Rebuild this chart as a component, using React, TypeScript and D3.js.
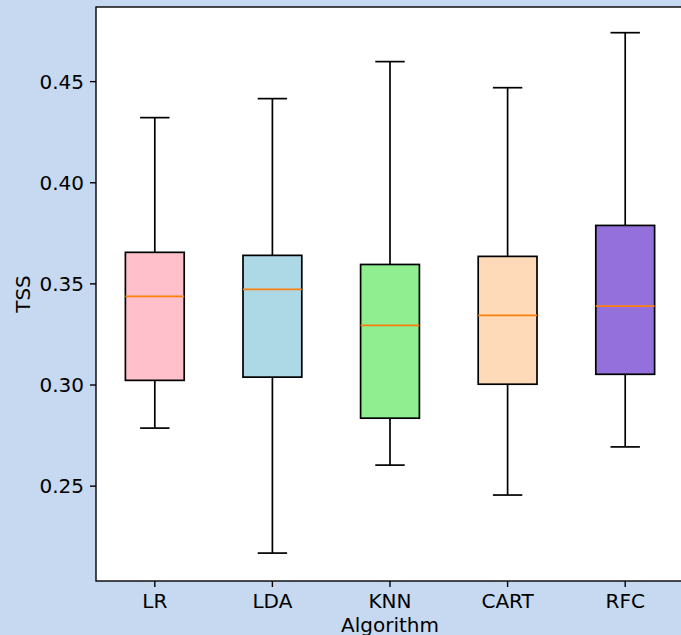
import React from "react";
import * as d3 from "d3";

const categories = ["LR", "LDA", "KNN", "CART", "RFC"];
const whiskerLow = [0.2787, 0.2169, 0.2604, 0.2456, 0.2694];
const q1 = [0.3023, 0.3039, 0.2836, 0.3004, 0.3053];
const medians = [0.3438, 0.3473, 0.3295, 0.3344, 0.339];
const q3 = [0.3656, 0.3641, 0.3596, 0.3636, 0.3789];
const whiskerHigh = [0.4322, 0.4416, 0.4599, 0.447, 0.4742];
const fills = ["#ffc0cb", "#add8e6", "#90ee90", "#ffdab9", "#9370db"];
const yTicks = [0.25, 0.3, 0.35, 0.4, 0.45];

export default function App() {
  const W = 681, H = 635;
  const left = 96, right = 684, top = 7, bottom = 581;
  const x = d3.scaleLinear().domain([0.5, 5.5]).range([left, right]);
  const y = d3.scaleLinear().domain([0.2031, 0.4869]).range([bottom, top]);
  const unit = x(2) - x(1);
  const boxW = unit * 0.5;
  const capW = boxW * 0.5;
  const font = "DejaVu Sans, sans-serif";
  const lw = 1.7;

  return (
    <svg width={W} height={H} style={{ position: "absolute", left: 0, top: 0 }} fontFamily={font}>
      <rect x={0} y={0} width={W} height={H} fill="#c6d9f0" />
      <rect x={left} y={top} width={right - left} height={bottom - top} fill="#ffffff" />
      {categories.map((c, i) => {
        const cx = x(i + 1);
        return (
          <g key={c}>
            <line x1={cx} x2={cx} y1={y(q3[i])} y2={y(whiskerHigh[i])} stroke="#000" strokeWidth={lw} />
            <line x1={cx} x2={cx} y1={y(q1[i])} y2={y(whiskerLow[i])} stroke="#000" strokeWidth={lw} />
            <line x1={cx - capW / 2} x2={cx + capW / 2} y1={y(whiskerHigh[i])} y2={y(whiskerHigh[i])} stroke="#000" strokeWidth={lw} />
            <line x1={cx - capW / 2} x2={cx + capW / 2} y1={y(whiskerLow[i])} y2={y(whiskerLow[i])} stroke="#000" strokeWidth={lw} />
            <rect x={cx - boxW / 2} y={y(q3[i])} width={boxW} height={y(q1[i]) - y(q3[i])} fill={fills[i]} stroke="#000" strokeWidth={lw} />
            <line x1={cx - boxW / 2} x2={cx + boxW / 2} y1={y(medians[i])} y2={y(medians[i])} stroke="#ff7f0e" strokeWidth={lw} />
          </g>
        );
      })}
      <rect x={left} y={top} width={right - left} height={bottom - top} fill="none" stroke="#000" strokeWidth={1.4} />
      {yTicks.map((t) => (
        <g key={t}>
          <line x1={left - 6} x2={left} y1={y(t)} y2={y(t)} stroke="#000" strokeWidth={1.4} />
          <text x={left - 12} y={y(t)} dy="0.36em" textAnchor="end" fontSize={20} fill="#000">
            {t.toFixed(2)}
          </text>
        </g>
      ))}
      {categories.map((c, i) => (
        <g key={c}>
          <line x1={x(i + 1)} x2={x(i + 1)} y1={bottom} y2={bottom + 6} stroke="#000" strokeWidth={1.4} />
          <text x={x(i + 1)} y={bottom + 12} dy="0.76em" textAnchor="middle" fontSize={20} fill="#000">
            {c}
          </text>
        </g>
      ))}
      <text x={(left + right) / 2} y={632} textAnchor="middle" fontSize={20} fill="#000">Algorithm</text>
      <text transform={`translate(30, ${(top + bottom) / 2}) rotate(-90)`} textAnchor="middle" fontSize={20} fill="#000">TSS</text>
    </svg>
  );
}
